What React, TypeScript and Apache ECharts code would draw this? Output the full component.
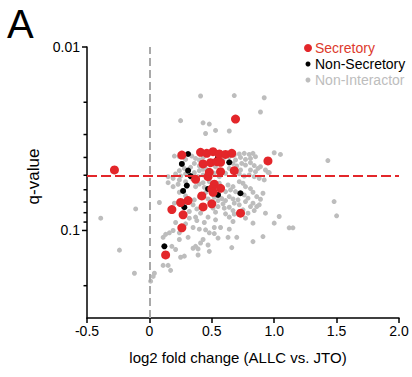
import React, { useEffect, useRef } from "react";
import * as echarts from "echarts";

// ---- Data (log2 fold change, q-value) ----
const secretoryFC = [-0.28, 0.69, 0.26, 0.41, 0.46, 0.51, 0.56, 0.61, 0.66, 0.43, 0.49, 0.54, 0.57, 0.48, 0.57, 0.68, 0.47, 0.95, 0.37, 0.52, 0.50, 0.57, 0.51, 0.42, 0.31, 0.25, 0.43, 0.50, 0.18, 0.27, 0.73, 0.26, 0.13];
const secretoryQ = [0.0468, 0.0247, 0.0388, 0.0375, 0.038, 0.0372, 0.0383, 0.0385, 0.038, 0.0434, 0.0427, 0.0422, 0.0425, 0.0482, 0.0478, 0.0472, 0.0509, 0.0418, 0.0526, 0.056, 0.0594, 0.0589, 0.0619, 0.0648, 0.0687, 0.0704, 0.0744, 0.0716, 0.0769, 0.0822, 0.0805, 0.0967, 0.136];

const nonSecretoryFC = [0.31, 0.26, 0.31, 0.33, 0.30, 0.27, 0.28, 0.12, 0.64, 0.55, 0.47, 0.55, 0.73];
const nonSecretoryQ = [0.0383, 0.0434, 0.0472, 0.0505, 0.0569, 0.0609, 0.0747, 0.122, 0.0425, 0.04, 0.0594, 0.064, 0.0627];

const nonInteractorFC = [
  0.41, 0.68, 0.92, 0.89, 0.25, 0.43, 0.48, 0.53, 0.64, 0.45,
  0.20, 0.24, 0.29, 0.34, 0.37, 0.40, 0.43, 0.36, 0.40, 0.33, 0.28, 0.24, 0.21, 0.25, 0.29, 0.36, 0.40, 0.43, 0.39, 0.34, 0.24, 0.19, 0.15,
  0.59, 0.64, 0.68, 0.72, 0.76, 0.80, 0.83, 0.73, 0.77, 0.81, 0.85, 0.69, 0.67, 0.70, 0.74, 0.77, 0.81, 0.84, 0.87, 0.89, 0.93, 0.96, 1.00, 1.05, 1.43,
  0.64, 0.61, 0.67, 0.72, 0.76, 0.80, 0.84, 0.88, 0.92, 0.56, 0.52, 0.43, 0.53, 0.45, 0.95, 0.85, 0.81, 0.73,
  0.08, 0.15, 0.19, 0.23, 0.37, 0.40, 0.43, 0.44, 0.45, 0.40, 0.36, 0.35, 0.38, 0.47, 0.52, 0.55, 0.58, 0.59, 0.61, 0.64, 0.67, 0.68, 0.71,
  0.64, 0.67, 0.72, 0.77, 0.81, 0.83, 0.86, 0.88, 0.84, 0.77, 0.81, 0.75, 0.83, 0.86, 0.67, 0.69, 0.72, 0.63, 0.93, 0.68, 0.64,
  0.24, 0.29, 0.20, 0.32, 0.41, 0.53, 0.61, 0.47, 0.37, 0.76, 0.79, 0.72, 0.61, 0.65, 0.56, 0.48, 0.29, 0.60, 0.55, 0.51, 0.75, 0.79, 0.89, 0.91,
  -0.39, -0.11, 0.21, 0.32, 0.38, 0.35, 0.40, 0.45, 0.52, 0.57, 0.64, 1.04, 1.00, 1.12, 1.15, 1.50, 0.13, 0.16, 0.19, 0.11, 0.24, 0.31, 0.43, 0.52, 0.55, 0.63, 0.70, 0.91, 1.48, 0.24, 0.48, 0.29, 0.44, 0.53, 0.67, 0.77, 0.83,
  0.18, 0.41, 0.47, 0.66, 0.83, -0.24, 0.39, 0.48, 0.39, 0.28, 0.25, 0.11, 0.15, 0.17, -0.12, 0.04, 0.03, 0.01, 0.35, 0.37, 0.21,
];
const nonInteractorQ = [
  0.0185, 0.0184, 0.0189, 0.0226, 0.0252, 0.0259, 0.0263, 0.0285, 0.0287, 0.0296,
  0.0393, 0.0396, 0.041, 0.0393, 0.0405, 0.0413, 0.04, 0.0431, 0.0445, 0.0453, 0.0459, 0.0472, 0.0492, 0.0505, 0.0492, 0.0484, 0.0472, 0.0464, 0.0509, 0.052, 0.053, 0.052, 0.0509,
  0.041, 0.0396, 0.0388, 0.0383, 0.038, 0.0385, 0.038, 0.04, 0.041, 0.0405, 0.0396, 0.0413, 0.0431, 0.0445, 0.0431, 0.044, 0.0427, 0.0443, 0.0459, 0.0449, 0.0468, 0.0484, 0.0377, 0.0385, 0.0416,
  0.0459, 0.0488, 0.0478, 0.0492, 0.0505, 0.0498, 0.0509, 0.052, 0.053, 0.0509, 0.0488, 0.0498, 0.0449, 0.0459, 0.0482, 0.0478, 0.0468, 0.0468,
  0.0704, 0.0549, 0.0577, 0.056, 0.0577, 0.0558, 0.0549, 0.0582, 0.0622, 0.0654, 0.0681, 0.0725, 0.0763, 0.0673, 0.0659, 0.0687, 0.067, 0.0716, 0.0687, 0.0654, 0.0673, 0.071, 0.0681,
  0.0747, 0.0779, 0.0725, 0.0696, 0.0741, 0.071, 0.0741, 0.0725, 0.0779, 0.0577, 0.0591, 0.0553, 0.0619, 0.0654, 0.0577, 0.0614, 0.0542, 0.0565, 0.0805, 0.0815, 0.0846,
  0.0619, 0.0648, 0.071, 0.0788, 0.0805, 0.0795, 0.0812, 0.0846, 0.0846, 0.064, 0.0667, 0.0627, 0.0614, 0.0601, 0.0553, 0.0542, 0.0542, 0.0756, 0.0741, 0.0756, 0.0772, 0.0805, 0.0676, 0.0627,
  0.0857, 0.0763, 0.0905, 0.0857, 0.0883, 0.0963, 0.0984, 0.0992, 0.0963, 0.0963, 0.0984, 0.0839, 0.0912, 0.0967, 0.0967, 0.0832, 0.105, 0.103, 0.1, 0.109, 0.112, 0.109, 0.112, 0.104, 0.11, 0.109, 0.109, 0.108, 0.0696, 0.103, 0.103, 0.092, 0.0905, 0.0875, 0.0894, 0.0857, 0.0912,
  0.122, 0.117, 0.12, 0.124, 0.115, 0.128, 0.126, 0.13, 0.136, 0.138, 0.14, 0.155, 0.155, 0.165, 0.171, 0.171, 0.178, 0.189, 0.125, 0.122, 0.127,
];

// ---- Axes ----
const xMin = -0.5;
const xMax = 2.0;
const xStep = 0.5;
const qTop = 0.01;
const qBottom = 0.3;
const qMajorTicks = [0.01, 0.1];
const qMajorLabels = ["0.01", "0.1"];
const qMinorTicks = [0.02, 0.03, 0.04, 0.05, 0.06, 0.07, 0.08, 0.09, 0.2];
const qThreshold = 0.05;
const fcZero = 0;

const RED = "#e3262a";
const RED_TEXT = "#dd3a2c";
const GRAY = "#bdbdbd";
const FONT = "'Liberation Sans', Arial, Helvetica, sans-serif";

const tr = (q: number) => -Math.log10(q);
const pts = (fc: number[], q: number[]) => fc.map((x, i) => [x, tr(q[i])]);

const tickSeries = (ticks: number[], len: number) => ({
  type: "custom",
  coordinateSystem: "cartesian2d",
  silent: true,
  clip: false,
  z: 10,
  data: ticks.map((q) => [xMin, tr(q)]),
  renderItem: (_params: any, api: any) => {
    const p = api.coord([api.value(0), api.value(1)]);
    return {
      type: "line",
      shape: { x1: p[0] - len, y1: p[1], x2: p[0], y2: p[1] },
      style: { stroke: "#000", lineWidth: 1.5 },
    };
  },
});

export default function App() {
  const ref = useRef<HTMLDivElement>(null);
  useEffect(() => {
    if (!ref.current) return;
    const chart = echarts.init(ref.current, null, { renderer: "svg" });
    const yMin = tr(qBottom);
    const yMax = tr(qTop);
    chart.setOption({
      animation: false,
      grid: { left: 87, right: 13, top: 47, bottom: 59 },
      xAxis: {
        type: "value",
        min: xMin,
        max: xMax,
        interval: xStep,
        name: "log2 fold change (ALLC vs. JTO)",
        nameLocation: "middle",
        nameGap: 32,
        nameTextStyle: { fontFamily: FONT, fontSize: 15, color: "#000", padding: [0, 10, 0, 0] },
        axisLine: { onZero: false, lineStyle: { color: "#000", width: 1.5 } },
        axisTick: { length: 5, lineStyle: { color: "#000", width: 1.5 } },
        axisLabel: {
          margin: 6,
          fontFamily: FONT,
          fontSize: 14,
          color: "#000",
          formatter: (v: number) => (v === 0 ? "0" : v.toFixed(1)),
        },
        splitLine: { show: false },
      },
      yAxis: {
        type: "value",
        min: yMin,
        max: yMax,
        position: "left",
        name: "q-value",
        nameLocation: "middle",
        nameGap: 37,
        nameTextStyle: { fontFamily: FONT, fontSize: 17, color: "#000", padding: [0, 0, 0, 12] },
        axisLine: { show: true, onZero: false, lineStyle: { color: "#000", width: 1.5 } },
        axisTick: { show: false },
        axisLabel: {
          margin: 7,
          fontFamily: FONT,
          fontSize: 14,
          color: "#000",
          customValues: qMajorTicks.map(tr),
          formatter: (v: number) => {
            const i = qMajorTicks.findIndex((q) => Math.abs(tr(q) - v) < 1e-6);
            return i >= 0 ? qMajorLabels[i] : "";
          },
        },
        splitLine: { show: false },
      },
      series: [
        {
          name: "Non-Interactor",
          type: "scatter",
          symbolSize: 5,
          itemStyle: { color: GRAY, opacity: 1 },
          data: pts(nonInteractorFC, nonInteractorQ),
          markLine: {
            silent: true,
            symbol: ["none", "none"],
            label: { show: false },
            data: [
              { xAxis: fcZero, lineStyle: { color: "#a9a9a9", width: 2, type: [8, 4] } },
              { yAxis: tr(qThreshold), lineStyle: { color: RED, width: 2.2, type: [10, 4] } },
            ],
          },
        },
        {
          name: "Non-Secretory",
          type: "scatter",
          symbolSize: 6,
          itemStyle: { color: "#000", opacity: 1 },
          data: pts(nonSecretoryFC, nonSecretoryQ),
        },
        {
          name: "Secretory",
          type: "scatter",
          symbolSize: 9,
          itemStyle: { color: RED, opacity: 1 },
          data: pts(secretoryFC, secretoryQ),
        },
        tickSeries(qMajorTicks, 5),
        tickSeries(qMinorTicks, 3.5),
      ],
      graphic: [
        { type: "text", left: 7, top: 4, style: { text: "A", font: `40px ${FONT}`, fill: "#000" } },
        { type: "circle", shape: { cx: 308, cy: 48, r: 4 }, style: { fill: RED } },
        { type: "text", x: 315, y: 48, style: { text: "Secretory", font: `14px ${FONT}`, fill: RED_TEXT, verticalAlign: "middle" } },
        { type: "circle", shape: { cx: 308, cy: 64, r: 2.5 }, style: { fill: "#000" } },
        { type: "text", x: 315, y: 64, style: { text: "Non-Secretory", font: `14px ${FONT}`, fill: "#000", verticalAlign: "middle" } },
        { type: "circle", shape: { cx: 308, cy: 80, r: 2.5 }, style: { fill: GRAY } },
        { type: "text", x: 315, y: 80, style: { text: "Non-Interactor", font: `14px ${FONT}`, fill: GRAY, verticalAlign: "middle" } },
      ],
    });
    return () => chart.dispose();
  }, []);
  return <div ref={ref} style={{ position: "absolute", left: 0, top: 0, width: 412, height: 377 }} />;
}
